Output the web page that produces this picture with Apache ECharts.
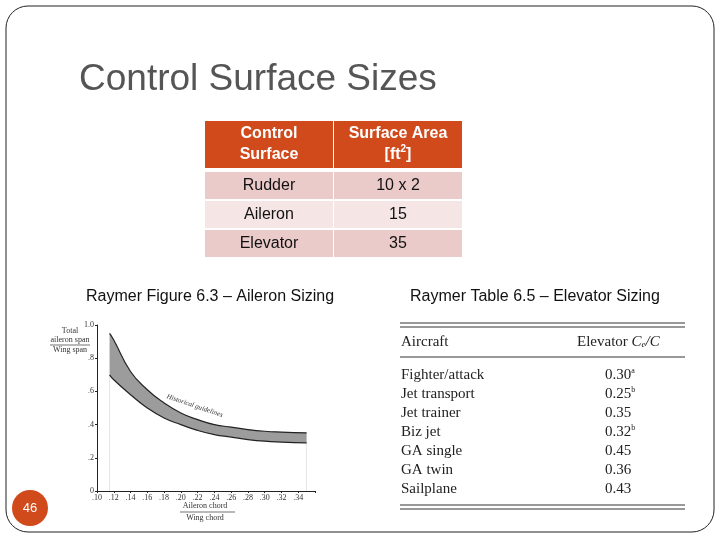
<!DOCTYPE html>
<html>
<head>
<meta charset="utf-8">
<script src="https://cdn.jsdelivr.net/npm/echarts@6/dist/echarts.min.js"></script>
<style>html,body{margin:0;padding:0;background:#fff}#c{width:720px;height:540px}</style>
</head>
<body>
<div id="c"></div>
<script>
// ── Data ──
const surfaceHeader = ['Control\nSurface', 'Surface Area\n[ft{s|2}]'];
const surfaceNames = ['Rudder', 'Aileron', 'Elevator'];
const surfaceAreas = ['10 x 2', '15', '35'];

const aircraft = ['Fighter/attack', 'Jet transport', 'Jet trainer', 'Biz jet', 'GA single', 'GA twin', 'Sailplane'];
const elevatorRatio = ['0.30', '0.25', '0.35', '0.32', '0.45', '0.36', '0.43'];
const elevatorNote = ['a', 'b', '', 'b', '', '', ''];

const chordRatio = [0.115, 0.12, 0.14, 0.16, 0.18, 0.20, 0.22, 0.24, 0.26, 0.28, 0.30, 0.32, 0.35];
const spanUpper = [0.95, 0.91, 0.72, 0.61, 0.53, 0.47, 0.43, 0.40, 0.385, 0.37, 0.36, 0.355, 0.35];
const spanLower = [0.70, 0.67, 0.58, 0.50, 0.44, 0.40, 0.365, 0.34, 0.325, 0.31, 0.30, 0.295, 0.29];

const xTicks = ['.10', '.12', '.14', '.16', '.18', '.20', '.22', '.24', '.26', '.28', '.30', '.32', '.34'];

const orange = '#D04A1C';
const serif = 'Liberation Serif';
const sans = 'Liberation Sans';

// ── Slide graphics ──
const g = [];
g.push({ type: 'rect', shape: { x: 6, y: 6, width: 708, height: 526, r: 22 },
  style: { fill: 'none', stroke: '#222', lineWidth: 1 }, z: 0 });
g.push({ type: 'text', left: 79, top: 61, style: { text: 'Control Surface Sizes', font: '37px ' + sans, fill: '#555' } });

// top table
const colX = [205, 334], colW = [128, 128];
const rowY = [121, 172, 201, 230], rowH = [47, 27, 27, 27];
const rowFill = [orange, '#EBCBC9', '#F5E6E5', '#EBCBC9'];
for (let r = 0; r < 4; r++) {
  for (let c = 0; c < 2; c++) {
    g.push({ type: 'rect', shape: { x: colX[c], y: rowY[r], width: colW[c], height: rowH[r] },
      style: { fill: rowFill[r] } });
    const txt = r === 0 ? surfaceHeader[c] : (c === 0 ? surfaceNames[r - 1] : surfaceAreas[r - 1]);
    g.push({ type: 'text', x: colX[c] + colW[c] / 2, y: rowY[r] + rowH[r] / 2,
      style: { text: txt, align: 'center', verticalAlign: 'middle',
        font: (r === 0 ? 'bold ' : '') + '16px ' + sans, fill: r === 0 ? '#fff' : '#111',
        lineHeight: 21,
        rich: { s: { fontSize: 10, verticalAlign: 'top', fill: '#fff', fontWeight: 'bold', padding: [0, 0, 8, 0] } } } });
  }
}

g.push({ type: 'text', left: 86, top: 289, style: { text: 'Raymer Figure 6.3 – Aileron Sizing', font: '16px ' + sans, fill: '#111' } });
g.push({ type: 'text', left: 410, top: 289, style: { text: 'Raymer Table 6.5 – Elevator Sizing', font: '16px ' + sans, fill: '#111' } });

// elevator table
[323, 327, 357, 505, 509].forEach(y => g.push({ type: 'line', shape: { x1: 400, y1: y, x2: 685, y2: y },
  style: { stroke: '#333', lineWidth: 1 } }));
g.push({ type: 'text', x: 401, y: 342, style: { text: 'Aircraft', font: '15px ' + serif, fill: '#222', verticalAlign: 'middle' } });
g.push({ type: 'text', x: 577, y: 342, style: { text: 'Elevator {i|C}{sub|e}{i|/C}', font: '15px ' + serif, fill: '#222', verticalAlign: 'middle',
  rich: { i: { fontStyle: 'italic', fontSize: 15, fontFamily: serif }, sub: { fontSize: 9, fontStyle: 'italic', padding: [6, 0, 0, 0], fontFamily: serif } } } });
aircraft.forEach((a, i) => {
  const y = 375 + i * 19;
  g.push({ type: 'text', x: 401, y, style: { text: a, font: '15px ' + serif, fill: '#222', verticalAlign: 'middle' } });
  g.push({ type: 'text', x: 605, y, style: { text: elevatorRatio[i] + (elevatorNote[i] ? '{s|' + elevatorNote[i] + '}' : ''),
    font: '15px ' + serif, fill: '#222', verticalAlign: 'middle',
    rich: { s: { fontSize: 8, padding: [0, 0, 8, 0], fontFamily: serif } } } });
});

// aileron chart axis names
g.push({ type: 'text', x: 70, y: 326, style: { text: 'Total\naileron span', font: '8px ' + serif, fill: '#333', align: 'center', lineHeight: 9 } });
g.push({ type: 'line', shape: { x1: 50, y1: 345, x2: 90, y2: 345 }, style: { stroke: '#333', lineWidth: 0.7 } });
g.push({ type: 'text', x: 70, y: 346, style: { text: 'Wing span', font: '8px ' + serif, fill: '#333', align: 'center' } });
g.push({ type: 'text', x: 205, y: 502, style: { text: 'Aileron chord', font: '8px ' + serif, fill: '#333', align: 'center' } });
g.push({ type: 'line', shape: { x1: 180, y1: 512, x2: 235, y2: 512 }, style: { stroke: '#333', lineWidth: 0.7 } });
g.push({ type: 'text', x: 205, y: 514, style: { text: 'Wing chord', font: '8px ' + serif, fill: '#333', align: 'center' } });
g.push({ type: 'text', x: 168, y: 393, rotation: -0.33, style: { text: 'Historical guidelines', font: 'italic 7px ' + serif, fill: '#333' }, z: 100 });

// page number
g.push({ type: 'circle', shape: { cx: 30, cy: 508, r: 18 }, style: { fill: orange } });
g.push({ type: 'text', x: 30, y: 508, style: { text: '46', font: '13px ' + sans, fill: '#fff', align: 'center', verticalAlign: 'middle' } });

const chart = echarts.init(document.getElementById('c'));
chart.setOption({
  animation: false,
  backgroundColor: '#fff',
  grid: { left: 97, right: 405, top: 325, bottom: 49 },
  xAxis: {
    type: 'value', min: 0.10, max: 0.36, interval: 0.02,
    axisLine: { lineStyle: { color: '#222' } },
    axisTick: { length: 2, lineStyle: { color: '#222' } },
    splitLine: { show: false },
    axisLabel: { fontFamily: serif, fontSize: 8, color: '#333', margin: 3,
      formatter: v => { const i = Math.round((v - 0.10) / 0.02); return xTicks[i] || ''; } }
  },
  yAxis: {
    type: 'value', min: 0, max: 1, interval: 0.2,
    axisLine: { show: true, lineStyle: { color: '#222' } },
    axisTick: { show: true, length: 2, lineStyle: { color: '#222' } },
    splitLine: { show: false },
    axisLabel: { fontFamily: serif, fontSize: 8, color: '#333', margin: 3,
      formatter: v => v === 0 ? '0' : v === 1 ? '1.0' : ('.' + Math.round(v * 10)) }
  },
  series: [
    { type: 'line', data: chordRatio.map((x, i) => [x, spanUpper[i]]), smooth: true, symbol: 'none',
      lineStyle: { color: '#222', width: 1.2 }, areaStyle: { color: '#9c9c9c', opacity: 1, origin: 'start' }, z: 2 },
    { type: 'line', data: chordRatio.map((x, i) => [x, spanLower[i]]), smooth: true, symbol: 'none',
      lineStyle: { color: '#222', width: 1.2 }, areaStyle: { color: '#fff', opacity: 1, origin: 'start' }, z: 3 }
  ],
  graphic: g
});
</script>
</body>
</html>
